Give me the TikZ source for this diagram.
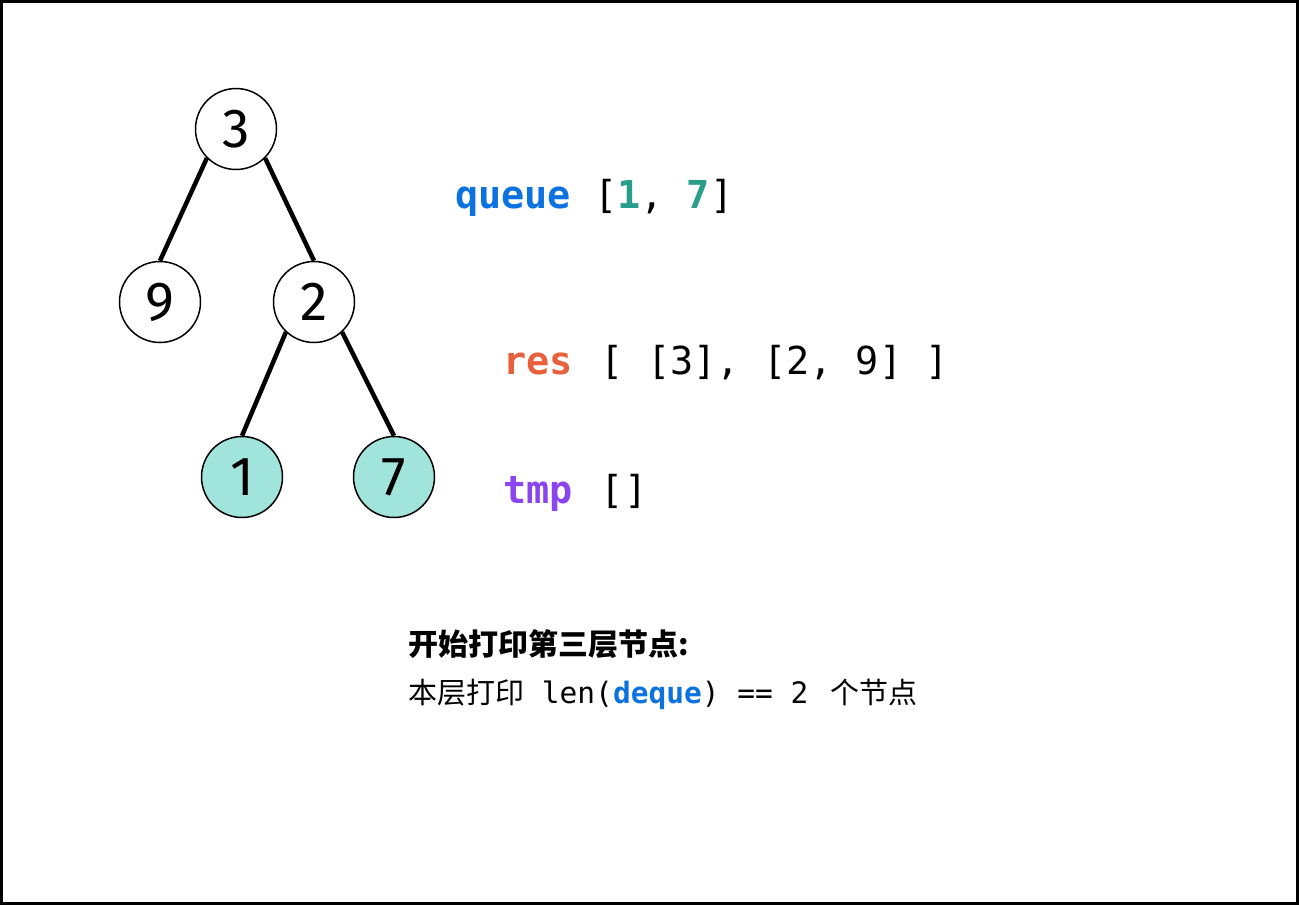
\documentclass[tikz,border=0pt]{standalone}
\usepackage{fontspec}
\setmainfont{Fira Sans}
\setmonofont{DejaVu Sans Mono}
\newfontfamily\cjk{Noto Sans CJK SC}
\newfontfamily\digitfont{Fira Sans}
\definecolor{qblue}{HTML}{0B72E0}
\definecolor{qteal}{HTML}{2A9D8C}
\definecolor{rorange}{HTML}{E8603C}
\definecolor{tpurple}{HTML}{8A45EE}
\definecolor{leaffill}{HTML}{A0E4DC}
\begin{document}
\begin{tikzpicture}[x=1pt,y=-1pt,
  tnode/.style={circle,draw=black,line width=1.5pt,minimum size=81pt,inner sep=0pt,fill=white,font=\digitfont\fontsize{55}{55}\selectfont},
  leaf/.style={tnode,fill=leaffill},
  edge/.style={line width=4.5pt},
  codetxt/.style={anchor=base west,inner sep=0pt,font=\ttfamily\fontsize{38.5}{38.5}\selectfont},
  cntxt/.style={anchor=base west,inner sep=0pt}]
\useasboundingbox (0,0) rectangle (1299,905);
\draw[line width=3pt] (1.5,1.5) rectangle (1297.5,903.5);
\node[tnode] (n3) at (236,129) {3};
\node[tnode] (n9) at (160,302) {9};
\node[tnode] (n2) at (314,302) {2};
\node[leaf] (n1) at (242,477) {1};
\node[leaf] (n7) at (394,477) {7};
\draw[edge] (n3.225) -- (n9.north);
\draw[edge] (n3.-45) -- (n2.north);
\draw[edge] (n2.227) -- (n1.north);
\draw[edge] (n2.-47) -- (n7.north);
\node[codetxt] (q) at (455,208) {\textcolor{qblue}{\bfseries queue} [\textcolor{qteal}{\bfseries 1}, \textcolor{qteal}{\bfseries 7}]};
\node[codetxt] (r) at (503,374) {\textcolor{rorange}{\bfseries res}\hspace{5pt} [ [3], [2, 9] ]};
\node[codetxt] (t) at (503,503) {\textcolor{tpurple}{\bfseries tmp}\hspace{5pt} []};
\node[cntxt,font=\cjk\bfseries\fontsize{30}{30}\selectfont] (l1) at (408,655) {开始打印第三层节点:};
\node[cntxt] (l2) at (408,703) {{\cjk\fontsize{29}{29}\selectfont 本层打印}{\ttfamily\fontsize{29.5}{29.5}\selectfont{} len(\textcolor{qblue}{\bfseries deque}) == 2 }\hspace{4pt}{\cjk\fontsize{29}{29}\selectfont 个节点}};
\end{tikzpicture}
\end{document}
